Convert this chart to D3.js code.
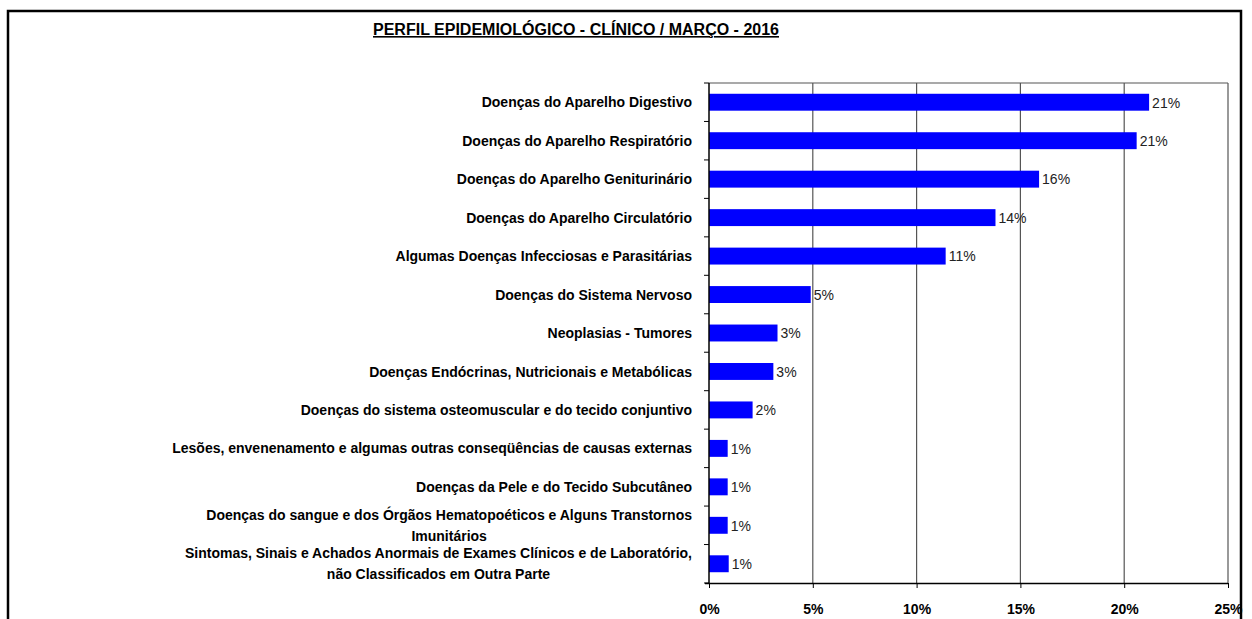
<!DOCTYPE html>
<html>
<head>
<meta charset="utf-8">
<script src="https://cdn.jsdelivr.net/npm/d3@7"></script>
<style>
  body { margin: 0; background: #fff; }
  svg { display: block; }
</style>
</head>
<body>
<script>
// categories (top to bottom), lines split where the label wraps
const categories = [
  ["Doenças do Aparelho Digestivo"],
  ["Doenças do Aparelho Respiratório"],
  ["Doenças do Aparelho Geniturinário"],
  ["Doenças do Aparelho Circulatório"],
  ["Algumas Doenças Infecciosas e Parasitárias"],
  ["Doenças do Sistema Nervoso"],
  ["Neoplasias - Tumores"],
  ["Doenças Endócrinas, Nutricionais e Metabólicas"],
  ["Doenças do sistema osteomuscular e do tecido conjuntivo"],
  ["Lesões, envenenamento e algumas outras conseqüências de causas externas"],
  ["Doenças da Pele e do Tecido Subcutâneo"],
  ["Doenças do sangue e dos Órgãos Hematopoéticos e Alguns Transtornos", "Imunitários"],
  ["Sintomas, Sinais e Achados Anormais de Exames Clínicos e de Laboratório,", "não Classificados em Outra Parte"]
];
const values = [21.2, 20.6, 15.9, 13.8, 11.4, 4.9, 3.3, 3.1, 2.1, 0.9, 0.9, 0.9, 0.95];
const xTicks = [0, 5, 10, 15, 20, 25];
const title = "PERFIL EPIDEMIOLÓGICO - CLÍNICO / MARÇO - 2016";

const width = 1252, height = 619;
const plot = {left: 709, right: 1228, top: 83, bottom: 583};
const labelX = 692;

const svg = d3.select("body").append("svg")
    .attr("width", width)
    .attr("height", height);

// outer frame (bottom runs off the picture)
svg.append("path")
    .attr("d", `M8,${height + 5}V11H1241V${height + 5}`)
    .attr("fill", "none")
    .attr("stroke", "#000")
    .attr("stroke-width", 2.5);

svg.append("text")
    .attr("x", 576)
    .attr("y", 35)
    .attr("text-anchor", "middle")
    .attr("font-family", "Liberation Sans, Arial, sans-serif")
    .attr("font-weight", "bold")
    .attr("font-size", 16)
    .attr("text-decoration", "underline")
    .text(title);

const x = d3.scaleLinear([0, 25], [plot.left, plot.right]);
const idx = d3.range(categories.length);
const y = d3.scaleBand(idx, [plot.top, plot.bottom]).paddingInner(0.56).paddingOuter(0.28);

// gridlines
svg.append("g")
    .attr("stroke", "#555")
    .attr("stroke-width", 1.2)
  .selectAll("line")
  .data(xTicks.slice(1))
  .join("line")
    .attr("x1", d => x(d)).attr("x2", d => x(d))
    .attr("y1", plot.bottom).attr("y2", plot.top);

// top border of plot area
svg.append("line")
    .attr("x1", x(0)).attr("x2", x(25))
    .attr("y1", plot.top).attr("y2", plot.top)
    .attr("stroke", "#555").attr("stroke-width", 1.2);

// bars
svg.append("g")
    .attr("fill", "#0000ff")
  .selectAll("rect")
  .data(values)
  .join("rect")
    .attr("x", x(0))
    .attr("y", (d, i) => y(i))
    .attr("width", d => x(d) - x(0))
    .attr("height", y.bandwidth());

// value labels
svg.append("g")
    .attr("font-family", "Liberation Sans Narrow, Arial Narrow, Liberation Sans, sans-serif")
    .attr("font-size", 14)
    .attr("fill", "#222")
  .selectAll("text")
  .data(values)
  .join("text")
    .attr("x", d => x(d) + 3)
    .attr("y", (d, i) => y(i) + y.bandwidth() / 2)
    .attr("dy", "0.38em")
    .text(d => Math.round(d) + "%");

// x axis
svg.append("g")
    .attr("transform", `translate(0,${plot.bottom})`)
    .call(d3.axisBottom(x).tickValues(xTicks).tickFormat(d => d + "%").tickSizeInner(5).tickSizeOuter(0).tickPadding(16))
    .call(g => g.select(".domain").attr("d", `M${plot.left - 4},0.5H${x(25)}`).attr("stroke-width", 1.5))
    .call(g => g.selectAll("text")
      .attr("font-family", "Liberation Sans, Arial, sans-serif")
      .attr("font-weight", "bold")
      .attr("font-size", 14)
      .attr("fill", "#000"));

// y axis with ticks between categories
const yAxis = svg.append("g");
yAxis.append("line")
    .attr("x1", x(0)).attr("x2", x(0))
    .attr("y1", plot.top).attr("y2", plot.bottom)
    .attr("stroke", "#000").attr("stroke-width", 1.5);
yAxis.selectAll(".tk")
  .data(d3.range(categories.length + 1))
  .join("line")
    .attr("x1", x(0) - 5).attr("x2", x(0))
    .attr("y1", i => plot.top + (plot.bottom - plot.top) * i / categories.length)
    .attr("y2", i => plot.top + (plot.bottom - plot.top) * i / categories.length)
    .attr("stroke", "#000");

// category labels
const lab = svg.append("g")
    .attr("font-family", "Liberation Sans, Arial, sans-serif")
    .attr("font-weight", "bold")
    .attr("font-size", 14)
    .attr("fill", "#000")
  .selectAll("text")
  .data(categories)
  .join("text")
    .attr("text-anchor", "end")
    .attr("x", labelX)
    .attr("y", (d, i) => y(i) + y.bandwidth() / 2 - (d.length - 1) * 10.5)
    .attr("dy", "0.36em");

lab.each(function(lines) {
  const t = d3.select(this);
  if (lines.length === 1) { t.text(lines[0]); return; }
  // wrapped labels: lines centred on the first one
  t.text(lines[0]);
  const w0 = this.getComputedTextLength();
  t.text(null);
  lines.forEach((s, k) => {
    t.append("tspan")
      .attr("x", k === 0 ? labelX : labelX - w0 / 2)
      .attr("dy", k === 0 ? "0.36em" : 21)
      .attr("text-anchor", k === 0 ? "end" : "middle")
      .text(s);
  });
  t.attr("dy", null);
});
</script>
</body>
</html>
